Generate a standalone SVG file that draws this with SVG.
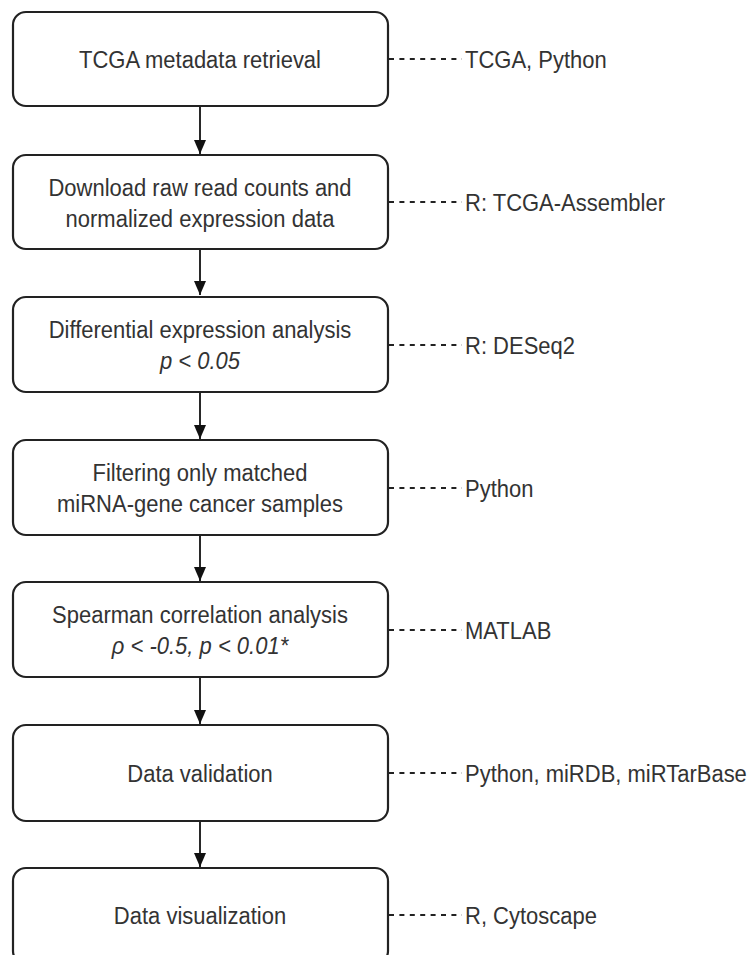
<svg xmlns="http://www.w3.org/2000/svg" width="756" height="955" viewBox="0 0 756 955">
<defs>
<marker id="ah" viewBox="0 0 14 12" refX="14" refY="6" markerWidth="14" markerHeight="12" markerUnits="userSpaceOnUse" orient="auto">
<path d="M0,0 L14,6 L0,12 Z" fill="#111"/>
</marker>
<style>
.box{fill:#fff;stroke:#222;stroke-width:2.2}
.t{font-family:"Liberation Sans",Arial,sans-serif;font-size:22px;fill:#333;text-anchor:middle}
.l{font-family:"Liberation Sans",Arial,sans-serif;font-size:22px;fill:#333}
.i{font-style:italic}
.dash{stroke:#222;stroke-width:1.8;stroke-dasharray:5 5.4;fill:none}
.arr{stroke:#111;stroke-width:1.8;fill:none}
</style>
</defs>
<rect width="756" height="955" fill="#fff"/>
<g id="connectors">
<line class="arr" x1="200" y1="107" x2="200" y2="154" marker-end="url(#ah)"/>
<line class="arr" x1="200" y1="250" x2="200" y2="295" marker-end="url(#ah)"/>
<line class="arr" x1="200" y1="393" x2="200" y2="439" marker-end="url(#ah)"/>
<line class="arr" x1="200" y1="536" x2="200" y2="581" marker-end="url(#ah)"/>
<line class="arr" x1="200" y1="678" x2="200" y2="724" marker-end="url(#ah)"/>
<line class="arr" x1="200" y1="822" x2="200" y2="867" marker-end="url(#ah)"/>
<line class="dash" x1="389" y1="59" x2="462" y2="59"/>
<line class="dash" x1="389" y1="202" x2="462" y2="202"/>
<line class="dash" x1="389" y1="345" x2="462" y2="345"/>
<line class="dash" x1="389" y1="488" x2="462" y2="488"/>
<line class="dash" x1="389" y1="630" x2="462" y2="630"/>
<line class="dash" x1="389" y1="773" x2="462" y2="773"/>
<line class="dash" x1="389" y1="915" x2="462" y2="915"/>
</g>
<g id="n1">
<rect class="box" x="13" y="12" width="375" height="94" rx="13"/>
<text class="t" transform="matrix(1,0,0,1.12,200,68)">TCGA metadata retrieval</text>
<text class="l" transform="matrix(1,0,0,1.12,465,68)">TCGA, Python</text>
</g>
<g id="n2">
<rect class="box" x="13" y="155" width="375" height="94" rx="13"/>
<text class="t" transform="matrix(1,0,0,1.12,200,196)">Download raw read counts and</text>
<text class="t" transform="matrix(1,0,0,1.12,200,227)">normalized expression data</text>
<text class="l" transform="matrix(1,0,0,1.12,465,211)">R: TCGA-Assembler</text>
</g>
<g id="n3">
<rect class="box" x="13" y="297" width="375" height="95" rx="13"/>
<text class="t" transform="matrix(1,0,0,1.12,200,338)">Differential expression analysis</text>
<text class="t i" transform="matrix(1,0,0,1.12,200,369)">p &lt; 0.05</text>
<text class="l" transform="matrix(1,0,0,1.12,465,354)">R: DESeq2</text>
</g>
<g id="n4">
<rect class="box" x="13" y="440" width="375" height="95" rx="13"/>
<text class="t" transform="matrix(1,0,0,1.12,200,481)">Filtering only matched</text>
<text class="t" transform="matrix(1,0,0,1.12,200,512)">miRNA-gene cancer samples</text>
<text class="l" transform="matrix(1,0,0,1.12,465,497)">Python</text>
</g>
<g id="n5">
<rect class="box" x="13" y="582" width="375" height="95" rx="13"/>
<text class="t" transform="matrix(1,0,0,1.12,200,623)">Spearman correlation analysis</text>
<text class="t i" transform="matrix(1,0,0,1.12,200,654)">ρ &lt; -0.5, p &lt; 0.01*</text>
<text class="l" transform="matrix(1,0,0,1.12,465,639)">MATLAB</text>
</g>
<g id="n6">
<rect class="box" x="13" y="725" width="375" height="96" rx="13"/>
<text class="t" transform="matrix(1,0,0,1.12,200,782)">Data validation</text>
<text class="l" transform="matrix(1,0,0,1.12,465,782)">Python, miRDB, miRTarBase</text>
</g>
<g id="n7">
<rect class="box" x="13" y="868" width="375" height="96" rx="13"/>
<text class="t" transform="matrix(1,0,0,1.12,200,924)">Data visualization</text>
<text class="l" transform="matrix(1,0,0,1.12,465,924)">R, Cytoscape</text>
</g>
</svg>
